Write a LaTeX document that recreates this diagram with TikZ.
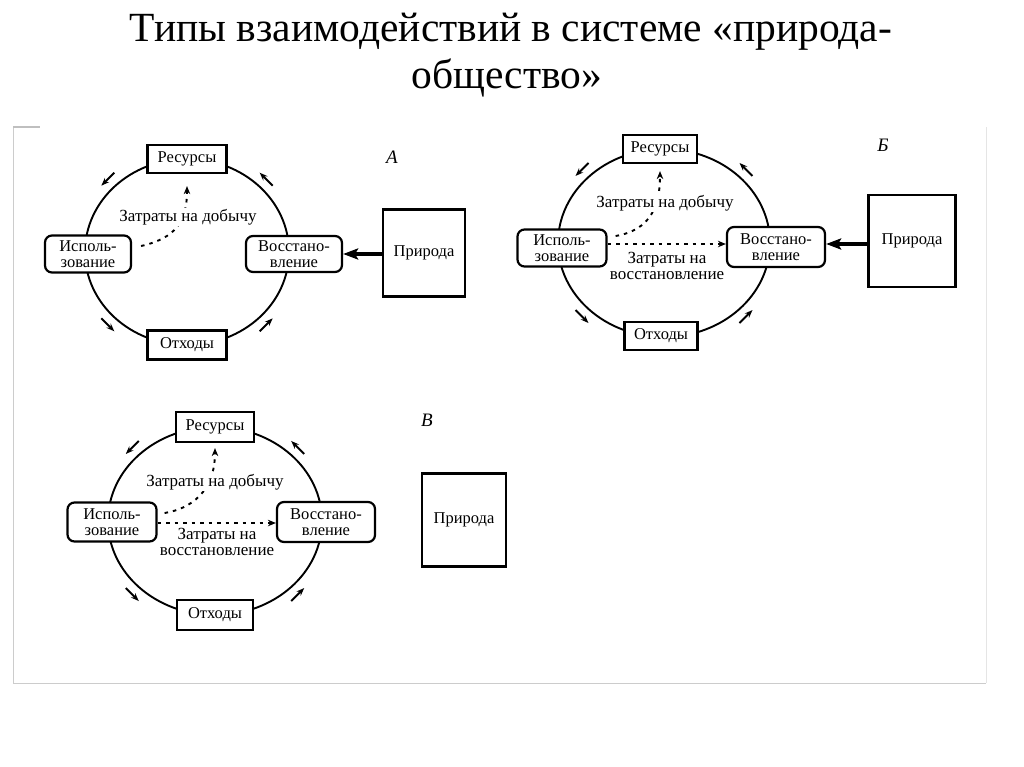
\documentclass[tikz,border=0pt]{standalone}
\usepackage{fontspec}
\setmainfont{Liberation Serif}
\usetikzlibrary{arrows.meta,calc}
\newcommand\cycarrows[4]{%
  \foreach \sx/\sy/\dx/\dy in {-1/-1/-1/1, 1/-1/-1/-1, -1/1/1/1, 1/1/1/-1}{%
    \draw[cyc] ({#1+\sx*0.707*(#3+10)-\dx*6.5},{#2+\sy*0.707*(#4+10)-\dy*6.5}) -- ++({\dx*13},{\dy*13});
  }}
\begin{document}
\begin{tikzpicture}[x=1pt,y=-1pt,
  lbl/.style={font=\fontsize{16.5}{15.5}\selectfont, align=center, inner sep=0pt},
  sq/.style={lbl, draw, line width=2.2pt, fill=white},
  rnd/.style={sq, rounded corners=7pt},
  ring/.style={line width=1.9pt},
  cyc/.style={line width=1.9pt, -{Stealth[length=8pt,width=6pt]}},
  dsh/.style={line width=1.9pt, dash pattern=on 3.5pt off 5pt, -{Stealth[length=8pt,width=6.5pt]}},
  big/.style={line width=4.2pt, -{Stealth[length=15pt,width=11pt,inset=3pt]}},
  cost/.style={font=\fontsize{17}{17}\selectfont, align=center, inner sep=1pt, fill=white},
  cost2/.style={font=\fontsize{17}{16}\selectfont, align=center, inner sep=0pt},
  tag/.style={font=\fontsize{19}{19}\selectfont\itshape},
  ttl/.style={font=\fontsize{41.5}{48}\selectfont, anchor=base}
]
\useasboundingbox (0,0) rectangle (1024,767);

% title
\node[ttl] (t1) at (511,42) {Типы взаимодействий в системе «природа-};
\node[ttl] (t2) at (507,89) {общество»};

% frame
\draw[gray!40, line width=1pt] (13,127) -- (13,683) -- (986,683);
\draw[gray!20, line width=1pt] (986,683) -- (986,127);
\draw[gray!50, line width=1.5pt] (13,127) -- (40,127);

% ---------- Panel A ----------
\draw[ring] (187,252) ellipse [x radius=102pt, y radius=93pt];
\node[sq, minimum width=79pt, minimum height=28pt] (aR) at (187,159) {Ресурсы};
\node[sq, minimum width=79pt, minimum height=29pt] (aO) at (187,345) {Отходы};
\node[rnd, minimum width=86pt, minimum height=37pt] (aI) at (88,254) {Исполь-\\зование};
\node[rnd, minimum width=96pt, minimum height=36pt] (aV) at (294,254) {Восстано-\\вление};
\node[sq, minimum width=82pt, minimum height=87pt] (aP) at (424,253) {Природа};
\node[tag] (aT) at (392,157) {А};
\draw[dsh] ([xshift=9pt,yshift=8pt]aI.east) .. controls +(35,-8) and +(0,35) .. ([yshift=-12pt]aR.south);
\node[cost] (aC) at (188,217) {Затраты на добычу};
\draw[big] (aP.west |- aV.east) -- (aV.east);
\cycarrows{187}{252}{102}{93}

% ---------- Panel B ----------
\draw[ring] (664,243) ellipse [x radius=106pt, y radius=94pt];
\node[sq, minimum width=74pt, minimum height=28pt] (bR) at (660,149) {Ресурсы};
\node[sq, minimum width=73pt, minimum height=28pt] (bO) at (661,336) {Отходы};
\node[rnd, minimum width=89pt, minimum height=37pt] (bI) at (562,248) {Исполь-\\зование};
\node[rnd, minimum width=98pt, minimum height=40pt] (bV) at (776,247) {Восстано-\\вление};
\node[sq, minimum width=87pt, minimum height=92pt] (bP) at (912,241) {Природа};
\node[tag] (bT) at (883,145) {Б};
\draw[dsh] ([xshift=8pt,yshift=12pt]bI.east) .. controls +(35,-6) and +(0,35) .. ([yshift=-7pt]bR.south);
\node[cost] (bC) at (665,203) {Затраты на добычу};
\coordinate (bs) at ([yshift=4pt]bI.east);
\draw[dsh] (bs) -- (bs -| bV.west);
\node[cost2] (bD) at (667,266) {Затраты на\\восстановление};
\draw[big] (bP.west |- bs) -- (bV.east |- bs);
\cycarrows{664}{243}{106}{94}

% ---------- Panel C ----------
\draw[ring] (215,521) ellipse [x radius=107pt, y radius=94pt];
\node[sq, minimum width=78pt, minimum height=30pt] (cR) at (215,427) {Ресурсы};
\node[sq, minimum width=76pt, minimum height=30pt] (cO) at (215,615) {Отходы};
\node[rnd, minimum width=89pt, minimum height=39pt] (cI) at (112,522) {Исполь-\\зование};
\node[rnd, minimum width=98pt, minimum height=40pt] (cV) at (326,522) {Восстано-\\вление};
\node[sq, minimum width=84pt, minimum height=93pt] (cP) at (464,520) {Природа};
\node[tag] (cT) at (427,420) {В};
\draw[dsh] ([xshift=7pt,yshift=9pt]cI.east) .. controls +(35,-6) and +(0,35) .. ([yshift=-5pt]cR.south);
\node[cost] (cC) at (215,482) {Затраты на добычу};
\coordinate (cs) at ([yshift=-1pt]cI.east);
\draw[dsh] (cs) -- (cs -| cV.west);
\node[cost2] (cD) at (217,542) {Затраты на\\восстановление};
\cycarrows{215}{521}{107}{94}
\end{tikzpicture}
\end{document}
